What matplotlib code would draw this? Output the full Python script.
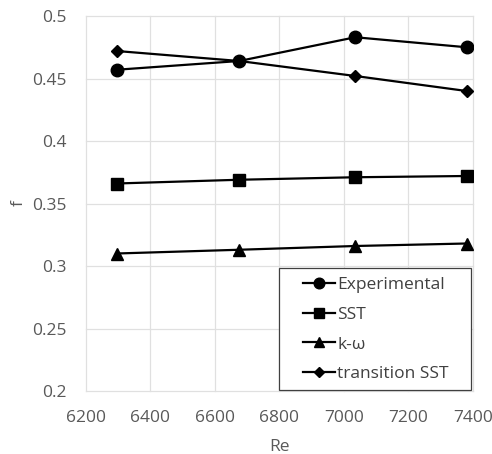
import matplotlib
matplotlib.use("Agg")
import matplotlib.pyplot as plt
from matplotlib.patches import Rectangle

# data
re_vals = [6295, 6675, 7035, 7380]
experimental = [0.457, 0.464, 0.483, 0.475]
sst = [0.366, 0.369, 0.371, 0.372]
k_omega = [0.310, 0.313, 0.316, 0.318]
transition_sst = [0.472, 0.464, 0.452, 0.440]

x_ticks = [6200, 6400, 6600, 6800, 7000, 7200, 7400]
y_ticks = [0.2, 0.25, 0.3, 0.35, 0.4, 0.45, 0.5]
y_labels = ["0.2", "0.25", "0.3", "0.35", "0.4", "0.45", "0.5"]

plt.rcParams['font.family'] = ['Open Sans', 'DejaVu Sans']

W, H = 492, 454
fig = plt.figure(figsize=(W / 100, H / 100), dpi=100)
ax = fig.add_axes([86 / W, 1 - 391 / H, 387 / W, 375 / H])

ax.plot(re_vals, experimental, color='black', lw=1.6, marker='o', ms=9, label='Experimental')
ax.plot(re_vals, sst, color='black', lw=1.6, marker='s', ms=8.5, label='SST')
ax.plot(re_vals, k_omega, color='black', lw=1.6, marker='^', ms=8.5, label='k-ω')
ax.plot(re_vals, transition_sst, color='black', lw=1.6, marker='D', ms=6.5, label='transition SST')

ax.set_xlim(6200, 7400)
ax.set_ylim(0.2, 0.5)
ax.set_xticks(x_ticks)
ax.set_yticks(y_ticks)
ax.set_yticklabels(y_labels)
ax.grid(True, color='#e0e0e0', lw=0.9)
for g in ax.get_xgridlines() + ax.get_ygridlines():
    g.set_clip_on(False)
ax.set_axisbelow(True)
for s in ax.spines.values():
    s.set_visible(False)
ax.tick_params(axis='both', length=0, labelsize=12.5, labelcolor='#595959', pad=14)

ax.set_xlabel('Re', fontsize=12.5, color='#595959', labelpad=9)
ax.set_ylabel('f', fontsize=12.5, color='#595959', labelpad=4)

# legend box like Excel's
box = Rectangle((279 / W, 1 - 390 / H), 192 / W, 122 / H,
                transform=fig.transFigure, facecolor='white',
                edgecolor='#404040', lw=0.9, zorder=5, clip_on=False)
ax.add_patch(box)
leg = ax.legend(loc='upper left', bbox_to_anchor=(303 / W, 1 - 277 / H),
                bbox_transform=fig.transFigure, fontsize=12.5, frameon=False,
                handlelength=1.85, handletextpad=0.12, labelspacing=0.78,
                borderpad=0.0, borderaxespad=0.0, markerscale=0.85)
leg.set_zorder(6)
for t in leg.get_texts():
    t.set_color('#404040')

fig.savefig('out.png', dpi=100)
